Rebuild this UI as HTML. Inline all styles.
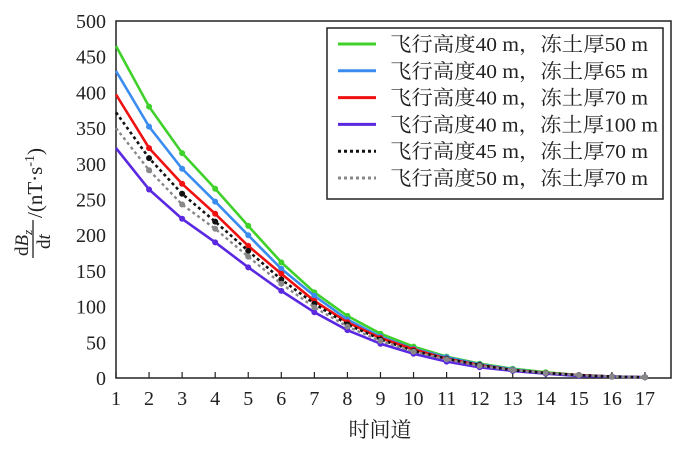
<!DOCTYPE html>
<html><head><meta charset="utf-8"><style>
body{margin:0;background:#fff;}
svg text{font-family:"Liberation Serif","Noto Serif CJK SC",serif;fill:#222;}
</style></head><body>
<svg width="700" height="446" viewBox="0 0 700 446" xmlns="http://www.w3.org/2000/svg">
<rect x="116" y="21" width="555" height="357" fill="none" stroke="#222" stroke-width="1.5"/>
<g id="ticks" stroke="#222" stroke-width="1.2"></g>
<g id="yl" font-size="20" text-anchor="end"></g>
<g id="xl" font-size="20" text-anchor="middle"></g>
<g id="series"></g>
<text x="380" y="437" font-size="21" text-anchor="middle">时间道</text>
<g transform="rotate(-90)">
<text x="-218" y="42" font-size="21">/(nT·s<tspan dy="-8" font-size="14">-1</tspan><tspan dy="8">)</tspan></text>
<text x="-256" y="28" font-size="19">d<tspan font-style="italic">B</tspan><tspan font-size="13" font-style="italic" dy="4">z</tspan></text>
<line x1="-258" y1="33" x2="-220" y2="33" stroke="#222" stroke-width="1.3"/>
<text x="-249" y="50" font-size="19">d<tspan font-style="italic">t</tspan></text>
</g>
<rect x="327" y="28" width="336" height="171" fill="#fff" stroke="#222" stroke-width="1.5"/>
<g id="leg" font-size="20"></g>
</svg>
<script>
const ns="http://www.w3.org/2000/svg";
function el(p,t,a,txt){const e=document.createElementNS(ns,t);for(const k in a)e.setAttribute(k,a[k]);if(txt!=null)e.textContent=txt;document.getElementById(p).appendChild(e);return e;}
const X=i=>116+(i-1)*33.06, Y=v=>378-v*0.714;
for(let v=0;v<=500;v+=50){el('yl','text',{x:106,y:Y(v)+7},v);}
for(let i=1;i<=17;i++){el('xl','text',{x:X(i),y:405},i);el('ticks','line',{x1:X(i),y1:378,x2:X(i),y2:372});}
const S=[
['#3fd12a',[465,380,315,265,213,162,120,87,62,44,30,20,13,8,4,2,1],'',2.6,'飞行高度40 m，冻土厚50 m',258],
['#3a8cf0',[430,352,293,247,200,153,115,82,58,41,29,19,12,7,4,2,1],'',2.6,'飞行高度40 m，冻土厚65 m',258],
['#f01010',[397,322,272,230,185,146,108,78,56,40,27,18,11,7,4,2,1],'',2.6,'飞行高度40 m，冻土厚70 m',258],
['#5a28e0',[322,264,223,190,155,122,92,67,48,34,23,15,10,6,3,2,1],'',2.6,'飞行高度40 m，冻土厚100 m',268],
['#111',[372,308,258,219,178,138,104,75,54,38,27,18,11,7,4,2,1],'3 3',2.6,'飞行高度45 m，冻土厚70 m',258],
['#888',[350,291,243,209,170,132,99,72,52,37,26,17,11,7,4,2,1],'3 3',2.4,'飞行高度50 m，冻土厚70 m',258]];
S.forEach((s,k)=>{
 let d=s[1].map((v,i)=>(i?'L':'M')+X(i+1).toFixed(1)+' '+Y(v).toFixed(1)).join(' ');
 el('series','path',{d:d,fill:'none',stroke:s[0],'stroke-width':s[3],'stroke-dasharray':s[2]});
 s[1].forEach((v,i)=>{if(i>0)el('series','circle',{cx:X(i+1),cy:Y(v),r:3,fill:s[0]});});
 const y=44+k*26.8;
 el('leg','line',{x1:338,y1:y,x2:376,y2:y,stroke:s[0],'stroke-width':3,'stroke-dasharray':s[2]});
 el('leg','text',{x:390,y:y+7,textLength:s[5],lengthAdjust:'spacingAndGlyphs'},s[4]);
});
</script>
</body></html>
